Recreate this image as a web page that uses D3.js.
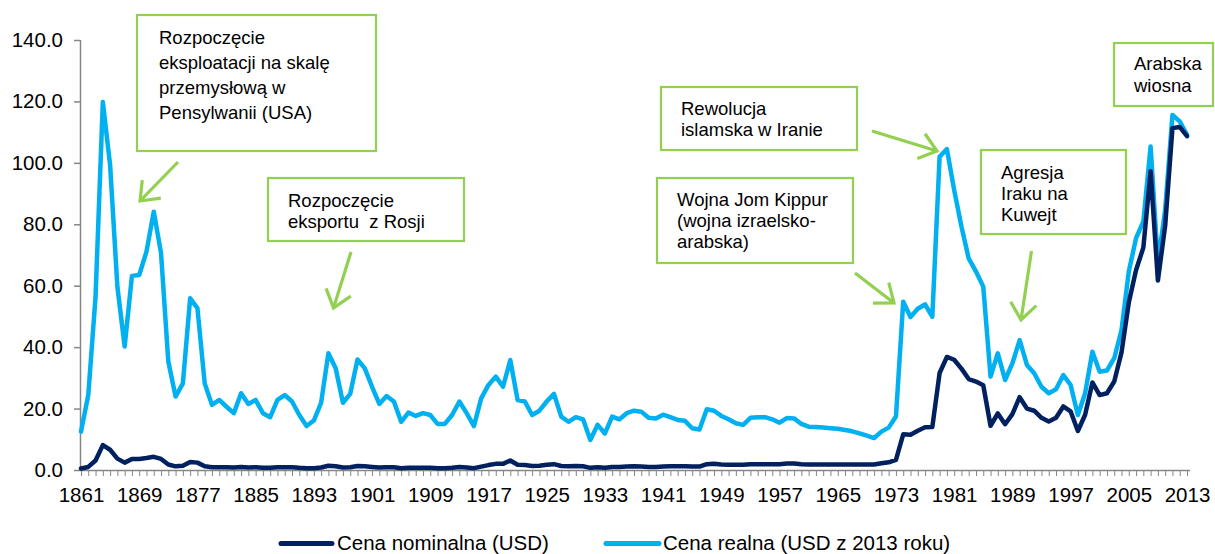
<!DOCTYPE html>
<html>
<head>
<meta charset="utf-8">
<script src="https://cdn.jsdelivr.net/npm/d3@7"></script>
<style>
  body { margin: 0; background: #fff; }
  svg { font-family: "Liberation Sans", Arial, sans-serif; }
  text { white-space: pre; }
</style>
</head>
<body>
<svg width="1215" height="554"></svg>
<script>
// categories: one point per year
var years = d3.range(1861, 2014);

// Cena nominalna (USD)
var nominal = [
  0.5, 1.0, 3.1, 8.1, 6.6, 3.7, 2.4, 3.6, 3.6, 3.9,
  4.3, 3.6, 1.8, 1.2, 1.4, 2.6, 2.4, 1.2, 0.9, 0.9,
  0.9, 0.8, 1.0, 0.8, 0.9, 0.7, 0.7, 0.9, 0.9, 0.9,
  0.7, 0.6, 0.6, 0.8, 1.4, 1.2, 0.8, 0.9, 1.3, 1.2,
  1.0, 0.8, 0.9, 0.9, 0.6, 0.7, 0.7, 0.7, 0.7, 0.6,
  0.6, 0.7, 1.0, 0.8, 0.6, 1.1, 1.6, 2.0, 2.0, 3.1,
  1.7, 1.6, 1.3, 1.4, 1.7, 1.9, 1.3, 1.2, 1.3, 1.2,
  0.7, 0.9, 0.7, 1.0, 1.0, 1.1, 1.2, 1.1, 1.0, 1.0,
  1.1, 1.2, 1.2, 1.2, 1.1, 1.1, 1.9, 2.0, 1.8, 1.7,
  1.7, 1.7, 1.9, 1.9, 1.9, 1.9, 1.9, 2.1, 2.1, 1.9,
  1.8, 1.8, 1.8, 1.8, 1.8, 1.8, 1.8, 1.8, 1.8, 1.8,
  2.2, 2.5, 3.3, 11.6, 11.5, 12.8, 13.9, 14.0, 31.6, 36.8,
  35.9, 33.0, 29.6, 28.8, 27.6, 14.4, 18.4, 14.9, 18.2, 23.7,
  20.0, 19.3, 17.0, 15.8, 17.0, 20.7, 19.1, 12.7, 18.0, 28.5,
  24.4, 25.0, 28.8, 38.3, 54.5, 65.1, 72.4, 97.3, 61.7, 79.5,
  111.3, 111.7, 108.7
];

// Cena realna (USD z 2013 roku)
var real = [
  12.5, 24.4, 56.5, 119.8, 99.3, 59.7, 40.2, 63.2, 63.5, 71.1,
  84.1, 70.6, 35.3, 23.9, 28.2, 55.9, 52.7, 28.2, 21.2, 22.8,
  20.6, 18.5, 25.0, 21.5, 22.8, 18.5, 17.2, 22.8, 24.4, 22.3,
  17.9, 14.3, 16.1, 21.9, 38.0, 33.1, 21.9, 24.8, 36.0, 33.1,
  27.1, 21.5, 24.1, 22.3, 15.7, 18.7, 17.6, 18.5, 17.9, 15.0,
  15.0, 17.9, 22.3, 18.5, 14.3, 23.3, 27.7, 30.4, 27.1, 35.8,
  22.8, 22.3, 17.9, 19.3, 22.3, 24.8, 17.4, 15.7, 17.2, 16.5,
  9.8, 14.7, 11.9, 17.4, 16.5, 18.5, 19.3, 19.0, 17.0, 16.8,
  18.0, 17.2, 16.3, 16.0, 13.6, 13.2, 19.8, 19.3, 17.6, 16.5,
  15.2, 14.7, 17.0, 17.2, 17.2, 16.5, 15.4, 16.9, 16.8, 15.0,
  14.1, 14.0, 13.8, 13.6, 13.4, 13.0, 12.6, 11.9, 11.2, 10.4,
  12.5, 13.8, 17.4, 54.8, 49.8, 52.5, 53.9, 49.9, 102.0, 104.5,
  91.2, 79.3, 68.9, 64.6, 59.7, 30.4, 38.0, 29.3, 34.7, 42.3,
  34.2, 31.5, 27.1, 25.0, 26.3, 30.9, 27.7, 17.9, 25.0, 38.5,
  32.0, 32.4, 36.4, 45.6, 64.6, 75.5, 80.9, 105.3, 67.3, 84.7,
  115.6, 113.5, 109.1
];

var yTicks = [0, 20, 40, 60, 80, 100, 120, 140];
var xLabelYears = d3.range(1861, 2014, 8);

var seriesNames = ["Cena nominalna (USD)", "Cena realna (USD z 2013 roku)"];
var seriesColors = ["#002060", "#00B0F0"];

// annotations: text lines + box/arrow layout in pixels
var notes = [
  { lines: ["Rozpoczęcie", "eksploatacji na skalę", "przemysłową w", "Pensylwanii (USA)"],
    box: [137, 15, 376, 151], tx: 159, ty: 43.5, lh: 25.3, arrow: [178, 162, 140, 201] },
  { lines: ["Rozpoczęcie", "eksportu  z Rosji"],
    box: [268, 178, 464, 241], tx: 288, ty: 206.5, lh: 21, arrow: [351, 252, 333.5, 308] },
  { lines: ["Wojna Jom Kippur", "(wojna izraelsko-", "arabska)"],
    box: [657, 178, 853, 263], tx: 677, ty: 206, lh: 21.2, arrow: [855, 273, 894, 303] },
  { lines: ["Rewolucja", "islamska w Iranie"],
    box: [661, 87, 857, 150], tx: 681, ty: 115, lh: 21, arrow: [872, 131, 937, 151] },
  { lines: ["Agresja", "Iraku na", "Kuwejt"],
    box: [981, 150, 1126, 234], tx: 1001, ty: 178.5, lh: 21.3, arrow: [1031.5, 251, 1021, 320] },
  { lines: ["Arabska", "wiosna"],
    box: [1114, 43, 1213, 106], tx: 1134, ty: 70, lh: 21.7, arrow: null }
];

var svg = d3.select("svg");

var x = d3.scalePoint()
    .domain(years)
    .range([81, 1187]);

var y = d3.scaleLinear()
    .domain([0, 140])
    .range([470, 40]);

var axisColor = "#868686";

// x axis: a tick at every year, labels every 8 years
var xAxis = svg.append("g")
    .attr("transform", "translate(0,470)")
    .call(d3.axisBottom(x)
        .tickSize(6)
        .tickFormat(function (d) { return xLabelYears.indexOf(d) >= 0 ? d : ""; }));
xAxis.select(".domain").attr("d", "M80,0.5H1190").attr("stroke", axisColor).attr("stroke-width", 1.5);
xAxis.selectAll(".tick line").attr("stroke", axisColor).attr("stroke-width", 1);
xAxis.selectAll(".tick text")
    .attr("dy", "0")
    .attr("y", 32)
    .attr("fill", "#000")
    .style("font-size", "20.5px");

// y axis
var yAxis = svg.append("g")
    .attr("transform", "translate(80,0)")
    .call(d3.axisLeft(y)
        .tickValues(yTicks)
        .tickSize(6)
        .tickPadding(11)
        .tickFormat(d3.format(".1f")));
yAxis.select(".domain").attr("d", "M0.5,40V470").attr("stroke", axisColor).attr("stroke-width", 1.5);
yAxis.selectAll(".tick line").attr("stroke", axisColor).attr("stroke-width", 1.5);
yAxis.selectAll(".tick text")
    .attr("fill", "#000")
    .style("font-size", "20.5px");

// lines
var line = d3.line()
    .x(function (d, i) { return x(years[i]); })
    .y(function (d) { return y(d); });

[real, nominal].forEach(function (vals, k) {
  svg.append("path")
      .datum(vals)
      .attr("fill", "none")
      .attr("stroke", k === 0 ? seriesColors[1] : seriesColors[0])
      .attr("stroke-width", 4.5)
      .attr("stroke-linejoin", "round")
      .attr("stroke-linecap", "round")
      .attr("d", line);
});

// annotations
var green = "#92D050";
notes.forEach(function (n) {
  var g = svg.append("g");
  g.append("rect")
      .attr("x", n.box[0])
      .attr("y", n.box[1])
      .attr("width", n.box[2] - n.box[0])
      .attr("height", n.box[3] - n.box[1])
      .attr("fill", "#fff")
      .attr("stroke", green)
      .attr("stroke-width", 2.2);
  var t = g.append("text")
      .attr("x", n.tx)
      .attr("y", n.ty)
      .attr("fill", "#000")
      .style("font-size", "18.5px");
  n.lines.forEach(function (s, i) {
    t.append("tspan").attr("x", n.tx).attr("y", n.ty + i * n.lh).text(s);
  });
  if (n.arrow) {
    var a = n.arrow;
    var ang = Math.atan2(a[1] - a[3], a[0] - a[2]);
    var len = 21, spread = 38 * Math.PI / 180;
    var p1 = [a[2] + len * Math.cos(ang + spread), a[3] + len * Math.sin(ang + spread)];
    var p2 = [a[2] + len * Math.cos(ang - spread), a[3] + len * Math.sin(ang - spread)];
    g.append("path")
        .attr("d", "M" + a[0] + "," + a[1] + "L" + a[2] + "," + a[3] +
                   "M" + p1[0] + "," + p1[1] + "L" + a[2] + "," + a[3] + "L" + p2[0] + "," + p2[1])
        .attr("fill", "none")
        .attr("stroke", green)
        .attr("stroke-width", 3.2)
        .attr("stroke-linejoin", "miter");
  }
});

// legend
var legend = [
  { name: seriesNames[0], color: seriesColors[0], x1: 281, x2: 332, tx: 337 },
  { name: seriesNames[1], color: seriesColors[1], x1: 606, x2: 659, tx: 663 }
];
legend.forEach(function (l) {
  svg.append("line")
      .attr("x1", l.x1).attr("x2", l.x2)
      .attr("y1", 543.5).attr("y2", 543.5)
      .attr("stroke", l.color)
      .attr("stroke-width", 5)
      .attr("stroke-linecap", "round");
  svg.append("text")
      .attr("x", l.tx)
      .attr("y", 549.5)
      .attr("fill", "#000")
      .style("font-size", "20.5px")
      .text(l.name);
});
</script>
</body>
</html>
